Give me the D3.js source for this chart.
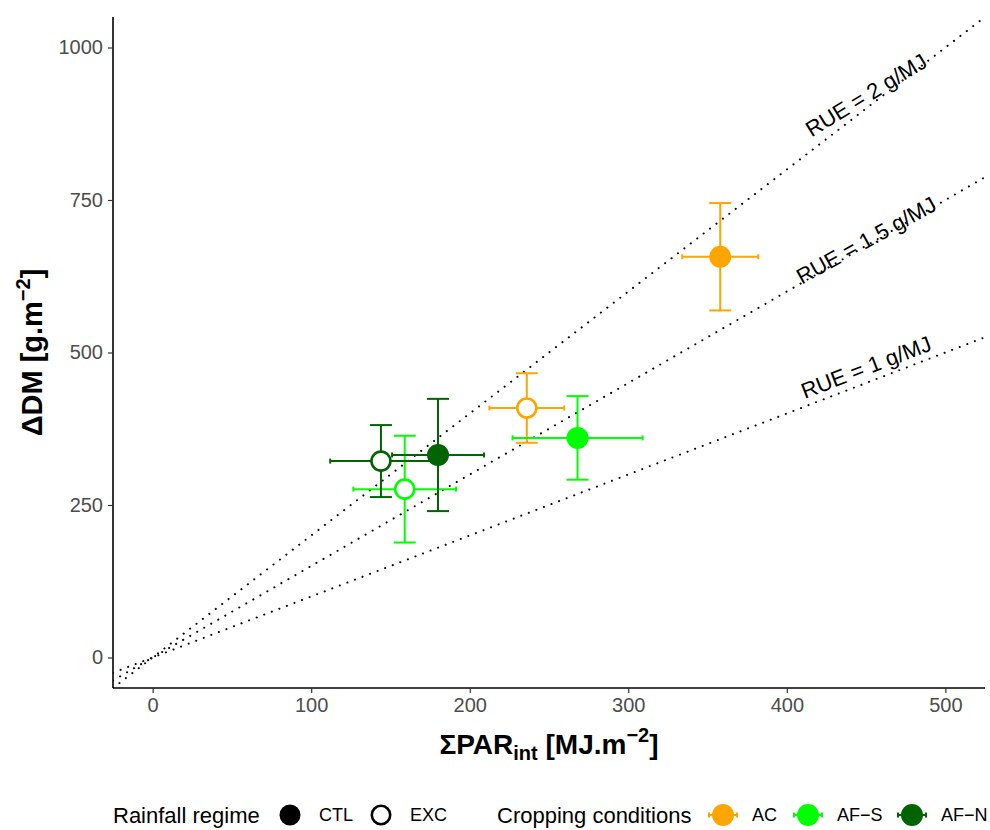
<!DOCTYPE html>
<html><head><meta charset="utf-8">
<script src="https://cdn.jsdelivr.net/npm/d3@7"></script>
<style>body{margin:0;background:#fff}svg{display:block;font-family:"Liberation Sans",Arial,sans-serif}</style>
</head><body><svg id="c" width="990" height="830"></svg>
<script>
const conditions = ["AC","AF−S","AF−N"];
const conditionColors = ["#FFA500","#00FF00","#006400"];
const regimes = ["CTL","EXC"];
const pointCondition = ["AC","AC","AF−S","AF−S","AF−N","AF−N"];
const pointRegime = ["CTL","EXC","CTL","EXC","CTL","EXC"];
const parInt = [358, 236, 268, 159, 180, 144];
const parErr = [24, 23.6, 41, 32.4, 29, 32];
const deltaDM = [657, 409, 360, 276, 332, 322];
const dmErr = [88, 57, 68.5, 87.5, 92, 59];
const rueValues = [2, 1.5, 1];
const rueLabels = ["RUE = 2 g/MJ","RUE = 1.5 g/MJ","RUE = 1 g/MJ"];
const rueLabelX = [450, 450, 450];
const rueLabelY = [922, 684, 476];
const rueLabelAngle = [31.5, 29, 21];
const xTicks = [0,100,200,300,400,500];
const yTicks = [0,250,500,750,1000];
const xDomain = [-25, 525];
const yDomain = [-50, 1050];

const svg = d3.select("#c");
const L=113, R=985, T=17, B=688;
const x = d3.scaleLinear().domain(xDomain).range([L,R]);
const y = d3.scaleLinear().domain(yDomain).range([B,T]);
const color = d3.scaleOrdinal().domain(conditions).range(conditionColors);

svg.append("defs").append("clipPath").attr("id","clip").append("rect")
  .attr("x",L).attr("y",T).attr("width",R-L).attr("height",B-T);

// RUE lines
const lineG = svg.append("g").attr("clip-path","url(#clip)");
rueValues.forEach(k=>{
  lineG.append("line")
    .attr("x1",x(xDomain[0])).attr("y1",y(k*xDomain[0]))
    .attr("x2",x(xDomain[1])).attr("y2",y(k*xDomain[1]))
    .attr("stroke","#000").attr("stroke-width",2)
    .attr("stroke-dasharray","0.1 8").attr("stroke-linecap","round");
});
rueLabels.forEach((t,i)=>{
  svg.append("text").attr("transform",`translate(${x(rueLabelX[i])},${y(rueLabelY[i])}) rotate(${-rueLabelAngle[i]})`)
    .attr("text-anchor","middle").attr("dy","0.35em").attr("font-size",22).attr("fill","#000").text(t);
});

// data
const data = parInt.map((v,i)=>({x:v,xe:parErr[i],y:deltaDM[i],ye:dmErr[i],c:pointCondition[i],r:pointRegime[i]}));
const eg = svg.append("g");
const capW = 11, capH = 2.5;
data.forEach(d=>{
  const col = color(d.c);
  const g = eg.append("g").attr("stroke",col).attr("stroke-width",2).attr("fill","none");
  g.append("line").attr("x1",x(d.x)).attr("x2",x(d.x)).attr("y1",y(d.y-d.ye)).attr("y2",y(d.y+d.ye));
  g.append("line").attr("x1",x(d.x)-capW).attr("x2",x(d.x)+capW).attr("y1",y(d.y-d.ye)).attr("y2",y(d.y-d.ye));
  g.append("line").attr("x1",x(d.x)-capW).attr("x2",x(d.x)+capW).attr("y1",y(d.y+d.ye)).attr("y2",y(d.y+d.ye));
  g.append("line").attr("x1",x(d.x-d.xe)).attr("x2",x(d.x+d.xe)).attr("y1",y(d.y)).attr("y2",y(d.y));
  g.append("line").attr("x1",x(d.x-d.xe)).attr("x2",x(d.x-d.xe)).attr("y1",y(d.y)-capH).attr("y2",y(d.y)+capH);
  g.append("line").attr("x1",x(d.x+d.xe)).attr("x2",x(d.x+d.xe)).attr("y1",y(d.y)-capH).attr("y2",y(d.y)+capH);
});
data.forEach(d=>{
  const col = color(d.c);
  if(d.r==="CTL") eg.append("circle").attr("cx",x(d.x)).attr("cy",y(d.y)).attr("r",11).attr("fill",col);
  else eg.append("circle").attr("cx",x(d.x)).attr("cy",y(d.y)).attr("r",9.5).attr("fill","#fff").attr("stroke",col).attr("stroke-width",2.6);
});

// axes
const xa = svg.append("g").attr("transform",`translate(0,${B})`)
  .call(d3.axisBottom(x).tickValues(xTicks).tickSize(5).tickPadding(5).tickFormat(d3.format("d")));
const ya = svg.append("g").attr("transform",`translate(${L},0)`)
  .call(d3.axisLeft(y).tickValues(yTicks).tickSize(5).tickPadding(5).tickFormat(d3.format("d")));
[xa,ya].forEach(a=>{
  a.select(".domain").attr("stroke","#000").attr("stroke-width",1.6);
  a.selectAll(".tick line").attr("stroke","#333").attr("stroke-width",1.2);
  a.selectAll(".tick text").attr("fill","#4D4D4D").attr("font-size",20).attr("font-family","Liberation Sans, Arial, sans-serif");
});
xa.select(".domain").attr("d",`M${L},0H${R}`);
ya.select(".domain").attr("d",`M0,${T}V${B}`);

// axis titles
const xt = svg.append("text").attr("x",(L+R)/2).attr("y",754).attr("text-anchor","middle")
  .attr("font-size",28).attr("font-weight","bold").attr("fill","#000");
xt.append("tspan").text("ΣPAR");
xt.append("tspan").attr("font-size",20).attr("dy",6).text("int");
xt.append("tspan").attr("dy",-6).text(" [MJ.m");
xt.append("tspan").attr("font-size",20).attr("dy",-12).text("−2");
xt.append("tspan").attr("dy",12).text("]");

const yt = svg.append("text").attr("transform",`translate(42,${(T+B)/2}) rotate(-90)`).attr("text-anchor","middle")
  .attr("font-size",29).attr("font-weight","bold").attr("fill","#000");
yt.append("tspan").text("ΔDM [g.m");
yt.append("tspan").attr("font-size",20).attr("dy",-12).text("−2");
yt.append("tspan").attr("dy",12).text("]");

// legend
const ly = 815;
const lg = svg.append("g").attr("font-size",18).attr("fill","#000");
lg.append("text").attr("x",113).attr("y",ly).attr("dy","0.35em").attr("font-size",22).text("Rainfall regime");
const regX = [290, 381];
regimes.forEach((r,i)=>{
  if(r==="CTL") lg.append("circle").attr("cx",regX[i]).attr("cy",ly).attr("r",10.5).attr("fill","#000");
  else lg.append("circle").attr("cx",regX[i]).attr("cy",ly).attr("r",9.2).attr("fill","#fff").attr("stroke","#000").attr("stroke-width",2.6);
  lg.append("text").attr("x",regX[i]+29).attr("y",ly).attr("dy","0.35em").text(r);
});
lg.append("text").attr("x",497).attr("y",ly).attr("dy","0.35em").attr("font-size",22).text("Cropping conditions");
const condX = [723, 808, 912];
conditions.forEach((c,i)=>{
  const col = color(c);
  const g = lg.append("g").attr("stroke",col).attr("stroke-width",2);
  g.append("line").attr("x1",condX[i]-14).attr("x2",condX[i]+14).attr("y1",ly).attr("y2",ly);
  g.append("line").attr("x1",condX[i]-14).attr("x2",condX[i]-14).attr("y1",ly-2.5).attr("y2",ly+2.5);
  g.append("line").attr("x1",condX[i]+14).attr("x2",condX[i]+14).attr("y1",ly-2.5).attr("y2",ly+2.5);
  lg.append("circle").attr("cx",condX[i]).attr("cy",ly).attr("r",11).attr("fill",col);
  lg.append("text").attr("x",condX[i]+29).attr("y",ly).attr("dy","0.35em").text(c);
});
</script></body></html>
